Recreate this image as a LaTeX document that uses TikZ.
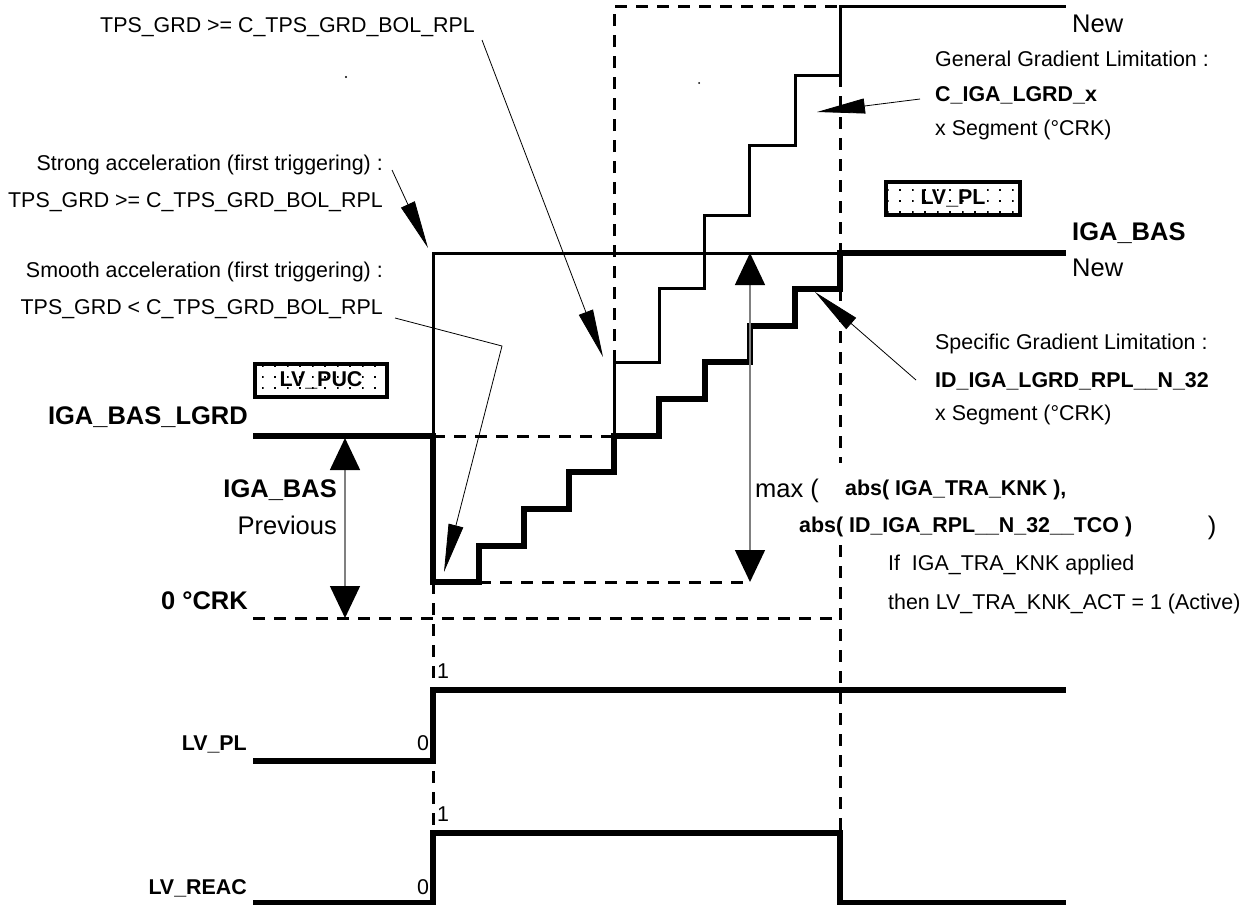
\documentclass[tikz,border=0pt]{standalone}
\usepackage{fontspec}
\setmainfont{Liberation Sans}
\usetikzlibrary{arrows.meta,patterns}
\pgfdeclarepatternformonly{flagdots}{\pgfqpoint{-1pt}{-1pt}}{\pgfqpoint{1pt}{1pt}}{\pgfqpoint{12.5pt}{11pt}}{%
  \pgfpathrectangle{\pgfqpoint{-1pt}{-1pt}}{\pgfqpoint{2pt}{2pt}}\pgfusepath{fill}}
\tikzset{
  lbl/.style={inner sep=0pt,text height=15.4pt,text depth=0pt,font=\fontsize{21.4}{24}\selectfont},
  lblb/.style={lbl,font=\fontsize{21.4}{24}\selectfont\bfseries},
  big/.style={inner sep=0pt,text height=18.3pt,text depth=0pt,font=\fontsize{25.5}{28}\selectfont},
  bigb/.style={big,font=\fontsize{25.5}{28}\selectfont\bfseries},
  flag/.style={draw,line width=3.5pt,pattern=flagdots,inner sep=0pt,minimum height=33pt,font=\fontsize{21.4}{24}\selectfont\bfseries},
  sig/.style={line width=5.5pt},
  stair/.style={line width=3pt},
  guide/.style={line width=3pt,dash pattern=on 12pt off 9pt},
  ptr/.style={-{Triangle[length=48pt,width=15pt]},line width=.8pt},
  span/.style={{Triangle[length=32pt,width=30pt,black]}-{Triangle[length=32pt,width=30pt,black]},draw=gray,line width=1.5pt},
}

\begin{document}
\begin{tikzpicture}[x=1pt,y=-1pt]
  \useasboundingbox (0,0) rectangle (1259,905);
  % guides
  \draw[guide] (433,436) -- (614,436);
  \draw[guide] (614,362) -- (614,6) -- (840,6);
  \draw[guide] (840,75) -- (840,253);
  \draw[guide] (840,289) -- (840,463);
  \draw[guide] (840,545) -- (840,833);
  \draw[guide] (479,582) -- (750,582);
  \draw[guide] (253,618) -- (840,618);
  \draw[guide] (433,582) -- (433,833);
  % ignition advance
  \draw[stair] (433,436) -- (433,253) -- (840,253);
  \draw[stair] (614,436) -- (614,362) -- (659,362) -- (659,288) -- (704,288) -- (704,215)
    -- (749,215) -- (749,145) -- (795,145) -- (795,75) -- (840,75) -- (840,6) -- (1066,6);
  \draw[sig] (253,436) -- (433,436) -- (433,582) -- (479,582) -- (479,546) -- (524,546)
    -- (524,509) -- (569,509) -- (569,472) -- (614,472) -- (614,436) -- (659,436)
    -- (659,399) -- (705,399) -- (705,362) -- (750,362) -- (750,326) -- (795,326)
    -- (795,289) -- (840,289) -- (840,253) -- (1066,253);
  % flags
  \draw[sig] (253,761) -- (433,761) -- (433,690) -- (1066,690);
  \draw[sig] (253,903) -- (433,903) -- (433,833) -- (840,833) -- (840,903) -- (1066,903);
  \fill (346,77) circle (1.2);
  \fill (699,83) circle (1);

  % left labels
  \node[lbl,anchor=west] (bolhi) at (100,25) {TPS\_GRD >= C\_TPS\_GRD\_BOL\_RPL};
  \node[lbl,anchor=east] (strong) at (383,163) {Strong acceleration (first triggering) :};
  \node[lbl,anchor=east] (stronge) at (383,200) {TPS\_GRD >= C\_TPS\_GRD\_BOL\_RPL};
  \node[lbl,anchor=east] (smooth) at (383,270) {Smooth acceleration (first triggering) :};
  \node[lbl,anchor=east] (smoothe) at (383,307) {TPS\_GRD < C\_TPS\_GRD\_BOL\_RPL};
  \node[flag,minimum width=132pt] (puc) at (321,380.5) {LV\_PUC};
  \node[bigb,anchor=east] (lgrd) at (248,415) {IGA\_BAS\_LGRD};
  \node[bigb,anchor=east] (prev) at (337,488) {IGA\_BAS};
  \node[big,anchor=east] (prevb) at (337,525) {Previous};
  \node[bigb,anchor=east] (crk) at (248,600) {0 °CRK};
  \node[lblb,anchor=east] (pl) at (247,743) {LV\_PL};
  \node[lblb,anchor=east] (reac) at (247,887) {LV\_REAC};
  \node[lbl] (pl0) at (423,743) {0};
  \node[lbl] (pl1) at (443,671) {1};
  \node[lbl] (reac0) at (423,887) {0};
  \node[lbl] (reac1) at (443,814) {1};

  % right labels
  \node[big,anchor=west] (new1) at (1072,23) {New};
  \node[lbl,anchor=west] (gen) at (935,59) {General Gradient Limitation :};
  \node[lblb,anchor=west] (genc) at (935,94) {C\_IGA\_LGRD\_x};
  \node[lbl,anchor=west] (gens) at (935,128) {x Segment (°CRK)};
  \node[flag,minimum width=134pt] (plf) at (953,198.5) {LV\_PL};
  \node[bigb,anchor=west] (new) at (1072,231) {IGA\_BAS};
  \node[big,anchor=west] (newb) at (1072,267) {New};
  \node[lbl,anchor=west] (spec) at (935,342) {Specific Gradient Limitation :};
  \node[lblb,anchor=west] (specc) at (935,380) {ID\_IGA\_LGRD\_RPL\_\_N\_32};
  \node[lbl,anchor=west] (specs) at (935,413) {x Segment (°CRK)};
  \node[big,anchor=west] (mx) at (755,488) {max (};
  \node[lblb,anchor=west] (mxa) at (845,488) {abs( IGA\_TRA\_KNK ),};
  \node[lblb,anchor=west] (mxb) at (799,525) {abs( ID\_IGA\_RPL\_\_N\_32\_\_TCO )};
  \node[big] (mxc) at (1212,525) {)};
  \node[lbl,anchor=west] (knk) at (888,563) {If~ IGA\_TRA\_KNK applied};
  \node[lbl,anchor=west] (knkb) at (888,602) {then LV\_TRA\_KNK\_ACT = 1 (Active)};

  % pointers
  \coordinate (bolhi-s) at (482,40);
  \coordinate (bolhi-e) at (603,357);
  \coordinate (strong-s) at (392,170);
  \coordinate (strong-e) at (428,248);
  \coordinate (smooth-s) at (395,318);
  \coordinate (smooth-k) at (502,346);
  \coordinate (smooth-e) at (444,572);
  \coordinate (gen-s) at (920,99);
  \coordinate (gen-e) at (817,112);
  \coordinate (spec-s) at (916,380);
  \coordinate (spec-e) at (815,292);
  \draw[ptr] (bolhi-s) -- (bolhi-e);
  \draw[ptr] (strong-s) -- (strong-e);
  \draw[ptr] (smooth-s) -- (smooth-k) -- (smooth-e);
  \draw[ptr] (gen-s) -- (gen-e);
  \draw[ptr] (spec-s) -- (spec-e);
  % spans
  \coordinate (lgrd-y) at (345,438);
  \coordinate (crk-y) at (345,618);
  \coordinate (mx-t) at (750,253);
  \coordinate (mx-b) at (750,582);
  \draw[span] (lgrd-y) -- (crk-y);
  \draw[span] (mx-t) -- (mx-b);
\end{tikzpicture}
\end{document}
